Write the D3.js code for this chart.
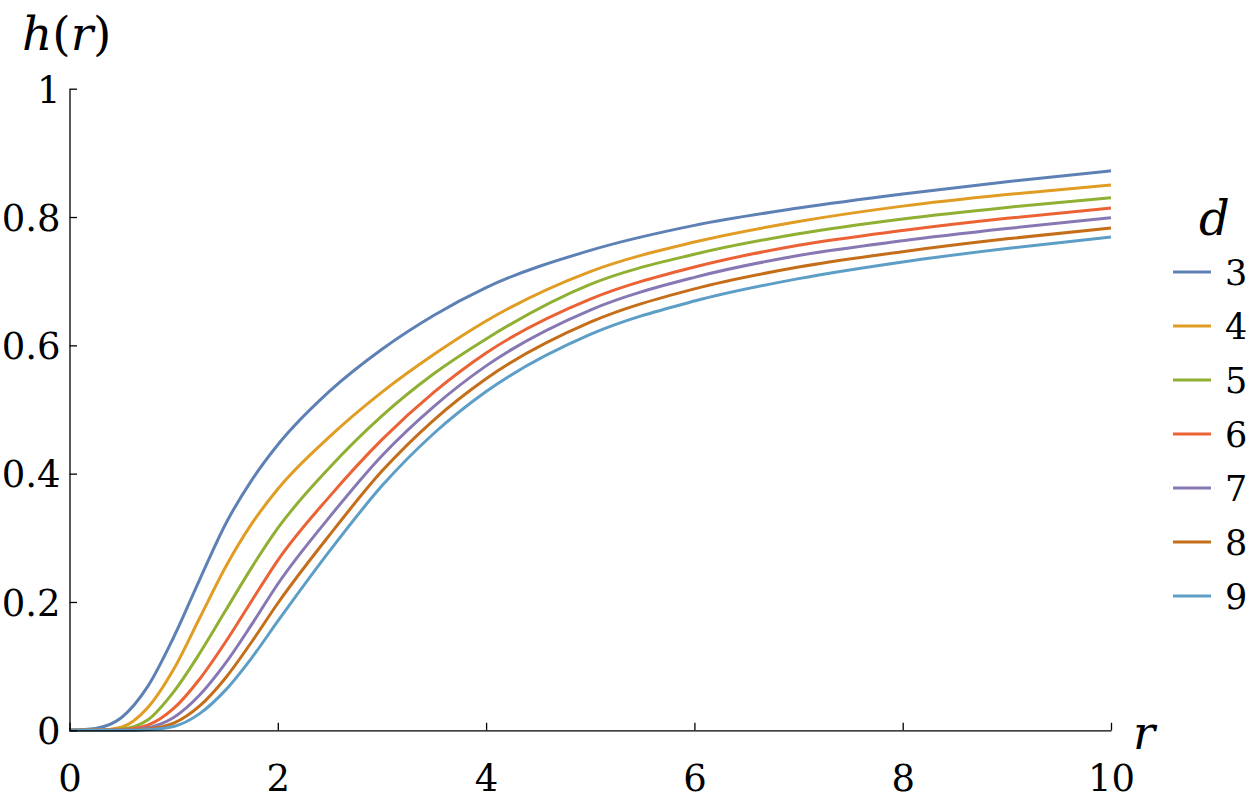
<!DOCTYPE html>
<html>
<head>
<meta charset="utf-8">
<script src="https://cdn.jsdelivr.net/npm/d3@7"></script>
<style>
  body { margin: 0; background: #fff; }
  svg { display: block; }
</style>
</head>
<body>
<svg id="chart" width="1256" height="812"></svg>
<script>
// sample points along r
var rVals = [0, 0.25, 0.5, 0.75, 1, 1.25, 1.5, 1.75, 2, 2.5, 3, 3.5, 4, 5, 6, 7, 8, 9, 10];

// h(r) for each d
var h3 = [0, 0.003, 0.02, 0.068, 0.145, 0.235, 0.322, 0.39, 0.445, 0.529, 0.594, 0.647, 0.69, 0.748, 0.787, 0.814, 0.836, 0.855, 0.872];
var h4 = [0, 0, 0.005, 0.035, 0.095, 0.175, 0.255, 0.322, 0.376, 0.458, 0.527, 0.586, 0.638, 0.715, 0.761, 0.793, 0.817, 0.835, 0.850];
var h5 = [0, 0, 0.002, 0.016, 0.06, 0.12, 0.187, 0.254, 0.315, 0.41, 0.49, 0.556, 0.61, 0.695, 0.742, 0.774, 0.797, 0.815, 0.830];
var h6 = [0, 0, 0.001, 0.008, 0.034, 0.08, 0.138, 0.202, 0.265, 0.365, 0.453, 0.527, 0.588, 0.672, 0.722, 0.756, 0.779, 0.798, 0.814];
var h7 = [0, 0, 0, 0.004, 0.02, 0.055, 0.105, 0.165, 0.228, 0.333, 0.428, 0.505, 0.568, 0.655, 0.706, 0.74, 0.763, 0.782, 0.799];
var h8 = [0, 0, 0, 0.002, 0.011, 0.038, 0.082, 0.138, 0.198, 0.305, 0.404, 0.484, 0.548, 0.636, 0.688, 0.722, 0.746, 0.766, 0.783];
var h9 = [0, 0, 0, 0.001, 0.006, 0.026, 0.063, 0.113, 0.17, 0.28, 0.381, 0.463, 0.528, 0.617, 0.669, 0.704, 0.73, 0.751, 0.769];

var dVals = [3, 4, 5, 6, 7, 8, 9];
var colors = ["#5E81B5", "#E19C24", "#8FB032", "#EB6235", "#8778B3", "#C56E1A", "#5D9EC7"];

var xTicks = [0, 2, 4, 6, 8, 10];
var yTicks = [0, 0.2, 0.4, 0.6, 0.8, 1];
var yTickLabels = ["0", "0.2", "0.4", "0.6", "0.8", "1"];

var series = [h3, h4, h5, h6, h7, h8, h9];

var serif = "'DejaVu Serif', serif";

var svg = d3.select("#chart");

var x = d3.scaleLinear().domain([0, 10]).range([69.5, 1111]);
var y = d3.scaleLinear().domain([0, 1]).range([730.3, 88.7]);

// curves
var line = d3.line()
  .curve(d3.curveMonotoneX)
  .x(function(p) { return x(p[0]); })
  .y(function(p) { return y(p[1]); });

svg.append("g")
  .selectAll("path")
  .data(series)
  .enter().append("path")
  .attr("fill", "none")
  .attr("stroke", function(s, i) { return colors[i]; })
  .attr("stroke-width", 3)
  .attr("d", function(s) { return line(rVals.map(function(r, k) { return [r, s[k]]; })); });

// axes (ticks pointing inward, Mathematica style)
var yAxis = svg.append("g")
  .attr("transform", "translate(" + x(0) + ",0)")
  .call(d3.axisLeft(y).tickValues(yTicks).tickSizeInner(-7.5).tickSizeOuter(0).tickPadding(9)
    .tickFormat(function(v, i) { return yTickLabels[i]; }));
var xAxis = svg.append("g")
  .attr("transform", "translate(0," + y(0) + ")")
  .call(d3.axisBottom(x).tickValues(xTicks).tickSizeInner(-7.5).tickSizeOuter(0).tickPadding(34));

[xAxis, yAxis].forEach(function(a) {
  a.attr("font-family", serif).attr("font-size", 37);
  a.select(".domain").attr("stroke", "#000").attr("stroke-width", 1.3);
  a.selectAll(".tick line").attr("stroke", "#000").attr("stroke-width", 1.3);
  a.selectAll(".tick text").attr("fill", "#000");
});
yAxis.selectAll(".tick text").attr("dy", "0.36em");
xAxis.selectAll(".tick text").attr("dy", "0.71em");

// axis labels
var hl = svg.append("text").attr("x", 22).attr("y", 50)
  .style("font-family", serif).style("font-size", "47px");
hl.append("tspan").style("font-style", "italic").text("h");
hl.append("tspan").text("(");
hl.append("tspan").style("font-style", "italic").text("r");
hl.append("tspan").text(")");

svg.append("text")
  .attr("x", 1133).attr("y", 749)
  .style("font-family", serif).style("font-size", "46px").style("font-style", "italic")
  .text("r");

// legend
svg.append("text")
  .attr("x", 1199).attr("y", 235)
  .style("font-family", serif).style("font-size", "48px").style("font-style", "italic")
  .text("d");

var legend = svg.append("g")
  .selectAll("g")
  .data(dVals)
  .enter().append("g")
  .attr("transform", function(d, i) { return "translate(1173," + (272 + i * 54) + ")"; });
legend.append("line")
  .attr("x1", 0).attr("x2", 38)
  .attr("stroke", function(d, i) { return colors[i]; })
  .attr("stroke-width", 3);
legend.append("text")
  .attr("x", 52).attr("dy", "0.36em")
  .style("font-family", serif).style("font-size", "35px")
  .text(function(d) { return d; });
</script>
</body>
</html>
